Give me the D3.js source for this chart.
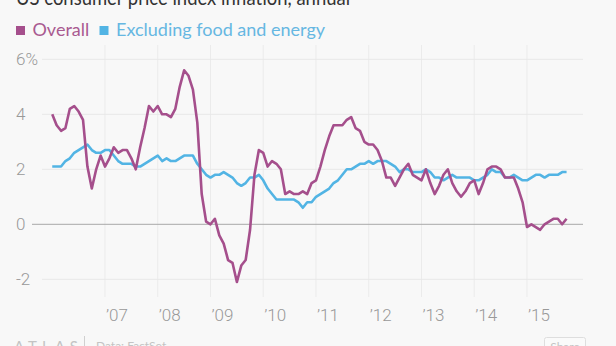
<!DOCTYPE html>
<html>
<head>
<meta charset="utf-8">
<script src="https://cdnjs.cloudflare.com/ajax/libs/d3/7.8.5/d3.min.js"></script>
<style>
  body { margin: 0; background: #f8f8f8; }
  svg { display: block; }
</style>
</head>
<body>
<svg id="chart" width="616" height="346"></svg>
<script>
// data: monthly, Jan 2006 - Oct 2015, % change year on year
var startYear = 2006;
var overall = [
  4.0, 3.6, 3.4, 3.5, 4.2, 4.3, 4.1, 3.8, 2.1, 1.3, 2.0, 2.5,
  2.1, 2.4, 2.8, 2.6, 2.7, 2.7, 2.4, 2.0, 2.8, 3.5, 4.3, 4.1,
  4.3, 4.0, 4.0, 3.9, 4.2, 5.0, 5.6, 5.4, 4.9, 3.7, 1.1, 0.1,
  0.0, 0.2, -0.4, -0.7, -1.3, -1.4, -2.1, -1.5, -1.3, -0.2, 1.8, 2.7,
  2.6, 2.1, 2.3, 2.2, 2.0, 1.1, 1.2, 1.1, 1.1, 1.2, 1.1, 1.5,
  1.6, 2.1, 2.7, 3.2, 3.6, 3.6, 3.6, 3.8, 3.9, 3.5, 3.4, 3.0,
  2.9, 2.9, 2.7, 2.3, 1.7, 1.7, 1.4, 1.7, 2.0, 2.2, 1.8, 1.7,
  1.6, 2.0, 1.5, 1.1, 1.4, 1.8, 2.0, 1.5, 1.2, 1.0, 1.2, 1.5,
  1.6, 1.1, 1.5, 2.0, 2.1, 2.1, 2.0, 1.7, 1.7, 1.7, 1.3, 0.8,
  -0.1, 0.0, -0.1, -0.2, 0.0, 0.1, 0.2, 0.2, 0.0, 0.2
];
var core = [
  2.1, 2.1, 2.1, 2.3, 2.4, 2.6, 2.7, 2.8, 2.9, 2.7, 2.6, 2.6,
  2.7, 2.7, 2.5, 2.3, 2.2, 2.2, 2.2, 2.1, 2.1, 2.2, 2.3, 2.4,
  2.5, 2.3, 2.4, 2.3, 2.3, 2.4, 2.5, 2.5, 2.5, 2.2, 2.0, 1.8,
  1.7, 1.8, 1.8, 1.9, 1.8, 1.7, 1.5, 1.4, 1.5, 1.7, 1.7, 1.8,
  1.6, 1.3, 1.1, 0.9, 0.9, 0.9, 0.9, 0.9, 0.8, 0.6, 0.8, 0.8,
  1.0, 1.1, 1.2, 1.3, 1.5, 1.6, 1.8, 2.0, 2.0, 2.1, 2.2, 2.2,
  2.3, 2.2, 2.3, 2.3, 2.3, 2.2, 2.1, 1.9, 2.0, 2.0, 1.9, 1.9,
  1.9, 2.0, 1.9, 1.7, 1.7, 1.6, 1.7, 1.8, 1.7, 1.7, 1.7, 1.7,
  1.6, 1.6, 1.7, 1.8, 2.0, 1.9, 1.9, 1.7, 1.7, 1.8, 1.7, 1.6,
  1.6, 1.7, 1.8, 1.8, 1.7, 1.8, 1.8, 1.8, 1.9, 1.9
];
var yTicks = [-2, 0, 2, 4, 6];
var xTicks = [2007, 2008, 2009, 2010, 2011, 2012, 2013, 2014, 2015];
var series = [
  { name: "Overall", values: overall, color: "#a54f8c", text: "#a95a90" },
  { name: "Excluding food and energy", values: core, color: "#52b4e4", text: "#66b7e2" }
];

var svg = d3.select('#chart');

// month index -> x
var x = d3.scaleLinear().domain([0, 108]).range([52.25, 527]);
var y = d3.scaleLinear().domain([-2, 6]).range([279.3, 59.3]);

// title, cut by the top edge
svg.append('text')
  .attr('x', 16).attr('y', 5)
  .attr('font-family', 'Lato, sans-serif')
  .attr('font-size', 21)
  .attr('fill', '#333')
  .attr('textLength', 334)
  .attr('lengthAdjust', 'spacingAndGlyphs')
  .text('US consumer price index inflation, annual');

// legend
var lx = [16, 99.5];
series.forEach(function(s, i) {
  svg.append('rect')
    .attr('x', lx[i]).attr('y', 26)
    .attr('width', 9).attr('height', 9)
    .attr('fill', s.color);
  svg.append('text')
    .attr('x', lx[i] + 16.5).attr('y', 36)
    .attr('font-family', 'Lato, sans-serif')
    .attr('font-size', 18)
    .attr('fill', s.text)
    .text(s.name);
});

// grid
var yearX = function(yr) { return x((yr - startYear) * 12); };

svg.append('g').selectAll('line')
  .data(xTicks)
  .enter().append('line')
  .attr('x1', yearX).attr('x2', yearX)
  .attr('y1', 45).attr('y2', 297)
  .attr('stroke', '#ebebeb').attr('stroke-width', 1);

svg.append('g').selectAll('line')
  .data(yTicks.filter(function(d) { return d !== 0; }))
  .enter().append('line')
  .attr('x1', 42).attr('x2', 583)
  .attr('y1', y).attr('y2', y)
  .attr('stroke', '#e8e8e8').attr('stroke-width', 1);

svg.append('line')
  .attr('x1', 32).attr('x2', 583)
  .attr('y1', y(0)).attr('y2', y(0))
  .attr('stroke', '#a8a8a8').attr('stroke-width', 1);

// y labels
svg.append('g').selectAll('text')
  .data(yTicks)
  .enter().append('text')
  .attr('x', 16)
  .attr('y', function(d) { return y(d) + 6; })
  .attr('font-family', 'Roboto, sans-serif')
  .attr('font-weight', 300)
  .attr('font-size', 17)
  .attr('fill', '#999')
  .text(function(d) { return d === 6 ? '6%' : d; });

// x labels
svg.append('g').selectAll('text')
  .data(xTicks)
  .enter().append('text')
  .attr('x', function(d) { return yearX(d) + 1; })
  .attr('y', 321)
  .attr('font-family', 'Roboto, sans-serif')
  .attr('font-weight', 300)
  .attr('font-size', 17)
  .attr('fill', '#999')
  .text(function(d) { return '\u2019' + String(d).slice(2); });

// lines
var line = d3.line()
  .x(function(d, i) { return x(i); })
  .y(function(d) { return y(d); });

svg.append('g').selectAll('path')
  .data(series.slice().reverse())
  .enter().append('path')
  .attr('d', function(s) { return line(s.values); })
  .attr('fill', 'none')
  .attr('stroke', function(s) { return s.color; })
  .attr('stroke-width', 2.6)
  .attr('stroke-linejoin', 'round');

// footer (cut by the bottom edge, as in the original)
svg.append('text')
  .attr('x', 14).attr('y', 352)
  .attr('font-family', 'Lato, sans-serif')
  .attr('font-size', 15)
  .attr('letter-spacing', 5)
  .attr('fill', '#c4c4c4')
  .text('ATLAS');
svg.append('line')
  .attr('x1', 84.5).attr('x2', 84.5)
  .attr('y1', 336).attr('y2', 346)
  .attr('stroke', '#d0d0d0');
svg.append('text')
  .attr('x', 96).attr('y', 350)
  .attr('font-family', 'Lato, sans-serif')
  .attr('font-size', 12)
  .attr('fill', '#c4c4c4')
  .text('Data: FactSet');
svg.append('rect')
  .attr('x', 544.5).attr('y', 337.5)
  .attr('width', 41).attr('height', 22)
  .attr('rx', 2)
  .attr('fill', '#fafafa')
  .attr('stroke', '#dedede');
svg.append('text')
  .attr('x', 565).attr('y', 351)
  .attr('text-anchor', 'middle')
  .attr('font-family', 'Lato, sans-serif')
  .attr('font-size', 12)
  .attr('fill', '#c4c4c4')
  .text('Share');
</script>
</body>
</html>
